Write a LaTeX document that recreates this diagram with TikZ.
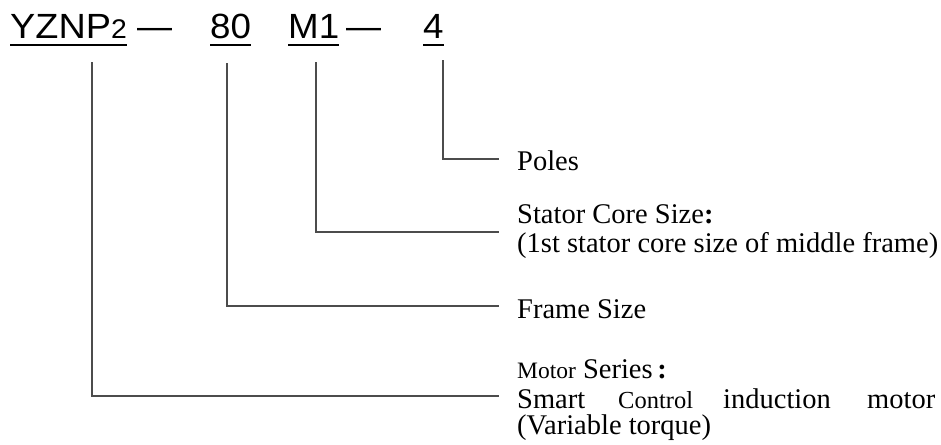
\documentclass[tikz,border=0pt]{standalone}
\usepackage{fontspec}
\setmainfont{Liberation Serif}
\newfontfamily\arialf{Liberation Sans}
\usetikzlibrary{calc}
\begin{document}
\begin{tikzpicture}[x=1pt,y=-1pt,
  code/.style={anchor=base west, inner sep=0pt, font=\arialf\fontsize{35}{35}\selectfont},
  lab/.style={anchor=base west, inner sep=0pt, font=\fontsize{28.5}{30}\selectfont},
  conn/.style={line width=1.2pt, black!70},
  uline/.style={line width=2pt, black}]
\useasboundingbox (0,0) rectangle (941,444);
% code parts
\node[code] (yz) at (10,38) {\scalebox{1.08}[1]{YZNP}\scalebox{1.05}[1]{\fontsize{27}{27}\selectfont 2}};
\node[code] (d1) at (137,38) {—};
\node[code] (ff) at (210,38) {\scalebox{1.05}[1]{80}};
\node[code] (mm) at (288,38) {\scalebox{1.05}[1]{M1}};
\node[code] (d2) at (346,38) {—};
\node[code] (pp) at (423,38) {\scalebox{1.05}[1]{4}};
% underlines
\foreach \n in {yz,ff,mm,pp}
  \draw[uline] ($(\n.base west)+(0,7)$) -- ($(\n.base east)+(0,7)$);
% labels
\node[lab] (poles) at (517,170) {Poles};
\node[lab] (stator) at (517,223) {Stator Core Size\textbf{:}};
\node[lab] (stator2) at (517,252) {(1st stator core size of middle frame)};
\node[lab] (frame) at (517,318) {Frame Size};
\node[lab] (series) at (517,378) {{\fontsize{23.5}{23.5}\selectfont Motor} Series\,\textbf{:}};
\node[lab] (w1) at (517,408) {Smart};
\node[lab, font=\fontsize{24.5}{24.5}\selectfont] (w2) at (618,408) {Control};
\node[lab] (w3) at (723,408) {induction};
\node[lab] (w4) at (867,408) {motor};
\node[lab] (var) at (517,434) {(Variable torque)};
% connector coordinates
\coordinate (s1) at (92,62);
\coordinate (s2) at (227,63);
\coordinate (s3) at (316,62);
\coordinate (s4) at (443,60);
\coordinate (e1) at (499,396);
\coordinate (e2) at (499,306);
\coordinate (e3) at (499,232);
\coordinate (e4) at (499,159);
\draw[conn] (s1) |- (e1);
\draw[conn] (s2) |- (e2);
\draw[conn] (s3) |- (e3);
\draw[conn] (s4) |- (e4);
\end{tikzpicture}
\end{document}
